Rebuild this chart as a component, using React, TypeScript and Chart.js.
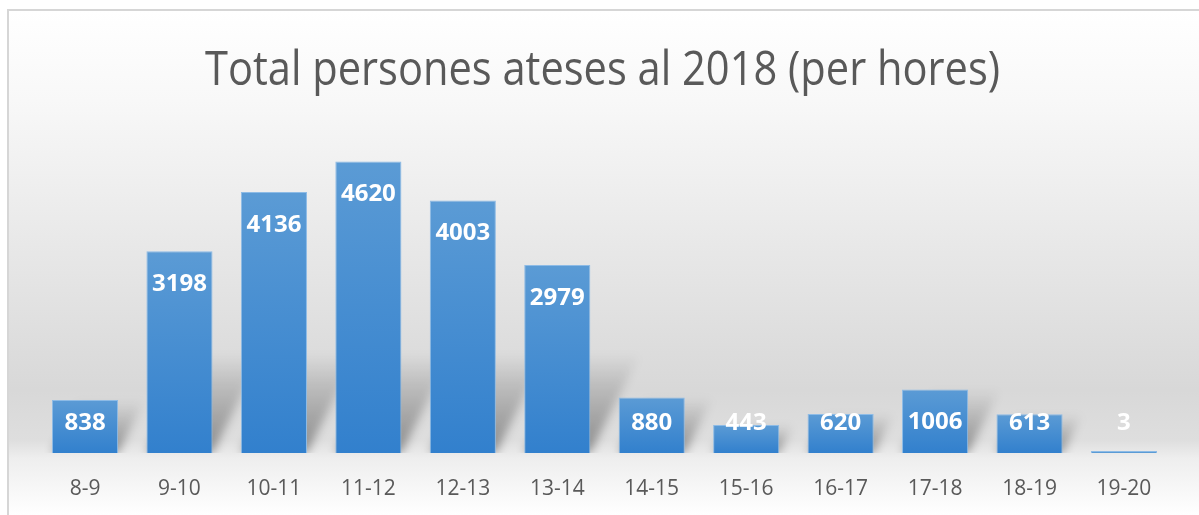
import React, { useEffect, useRef } from "react";
import { Chart, registerables } from "chart.js";

Chart.register(...registerables);

const categories = ["8-9", "9-10", "10-11", "11-12", "12-13", "13-14", "14-15", "15-16", "16-17", "17-18", "18-19", "19-20"];
const persons = [838, 3198, 4136, 4620, 4003, 2979, 880, 443, 620, 1006, 613, 3];
const chartTitle = "Total persones ateses al 2018 (per hores)";

const W = 1199;
const H = 515;

const backgroundPlugin = {
  id: "bgPlugin",
  beforeDraw(chart: any) {
    const ctx = chart.ctx;
    ctx.save();
    ctx.fillStyle = "#ffffff";
    ctx.fillRect(0, 0, W, H);
    const g = ctx.createLinearGradient(0, 11, 0, H);
    g.addColorStop(0, "#ffffff");
    g.addColorStop(0.177, "#f8f8f8");
    g.addColorStop(0.752, "#d8d8d8");
    g.addColorStop(0.851, "#dedede");
    g.addColorStop(0.887, "#eeeeee");
    g.addColorStop(1, "#ffffff");
    ctx.fillStyle = g;
    ctx.fillRect(9, 11, W - 9, H - 11);
    ctx.strokeStyle = "#d6d6d6";
    ctx.lineWidth = 2;
    ctx.beginPath();
    ctx.moveTo(8, H);
    ctx.lineTo(8, 10);
    ctx.lineTo(W, 10);
    ctx.stroke();
    // title
    ctx.font = '400 47px "Open Sans"';
    const tw = ctx.measureText(chartTitle).width;
    const sx = 795 / tw;
    ctx.translate(602.5, 85);
    ctx.scale(sx, 1);
    ctx.fillStyle = "#595959";
    ctx.textAlign = "center";
    ctx.textBaseline = "alphabetic";
    ctx.fillText(chartTitle, 0, 0);
    ctx.restore();
  },
};

const shadowPlugin = {
  id: "shadowPlugin",
  beforeDatasetsDraw(chart: any) {
    const ctx = chart.ctx;
    const meta = chart.getDatasetMeta(0);
    const base = chart.scales.y.getPixelForValue(0);
    ctx.save();
    ctx.beginPath();
    ctx.rect(0, 0, W, base);
    ctx.clip();
    ctx.filter = "blur(5px)";
    meta.data.forEach((bar: any) => {
      const { x, y, width } = bar.getProps(["x", "y", "width"], true);
      const h = base - y;
      if (h < 4) return;
      const sh = Math.min(h, 100);
      const left = x - width / 2;
      const right = x + width / 2;
      const k = 0.5;
      const g = ctx.createLinearGradient(0, base, 0, base - sh);
      g.addColorStop(0, "rgba(0,0,0,0.38)");
      g.addColorStop(1, "rgba(0,0,0,0)");
      ctx.fillStyle = g;
      ctx.beginPath();
      ctx.moveTo(left, base);
      ctx.lineTo(right, base);
      ctx.lineTo(right + k * sh, base - sh);
      ctx.lineTo(left + k * sh, base - sh);
      ctx.closePath();
      ctx.fill();
    });
    ctx.restore();
  },
};

const labelPlugin = {
  id: "labelPlugin",
  afterDatasetsDraw(chart: any) {
    const ctx = chart.ctx;
    const meta = chart.getDatasetMeta(0);
    const base = chart.scales.y.getPixelForValue(0);
    ctx.save();
    ctx.font = 'bold 24px "Open Sans"';
    ctx.fillStyle = "#ffffff";
    ctx.textAlign = "center";
    ctx.textBaseline = "middle";
    meta.data.forEach((bar: any, i: number) => {
      const { x, y } = bar.getProps(["x", "y"], true);
      const ly = Math.min(y + 32, base - 31);
      ctx.fillText(String(persons[i]), x, ly + 1);
    });
    ctx.restore();
  },
};

export default function App() {
  const ref = useRef<HTMLCanvasElement>(null);

  useEffect(() => {
    if (!ref.current) return;
    const chart = new Chart(ref.current, {
      type: "bar",
      data: {
        labels: categories,
        datasets: [
          {
            data: persons,
            backgroundColor: (c: any) => {
              const ch = c.chart;
              const ys = ch.scales && ch.scales.y;
              if (!ys || c.type !== "data") return "#4a8fd4";
              const top = ys.getPixelForValue(c.raw);
              const base = ys.getPixelForValue(0);
              if (!isFinite(top) || !isFinite(base) || base - top < 2) return "#5b9bd5";
              const g = ch.ctx.createLinearGradient(0, top, 0, base);
              g.addColorStop(0, "#5b9bd5");
              g.addColorStop(1, "#3280cd");
              return g;
            },
            borderColor: "#8dbbe6",
            borderWidth: 1,
            barPercentage: 0.7,
            categoryPercentage: 1,
            minBarLength: 2,
          },
        ],
      },
      options: {
        animation: false,
        responsive: false,
        devicePixelRatio: 1,
        layout: {
          padding: { left: 37.8, right: 27.8, top: 137.5, bottom: 6 },
        },
        plugins: {
          legend: { display: false },
          title: { display: false },
          tooltip: { enabled: false },
        },
        scales: {
          y: {
            display: false,
            min: 0,
            max: 5000,
          },
          x: {
            grid: { display: false, drawTicks: true, tickLength: 8 },
            border: { display: false },
            ticks: {
              color: "#595959",
              font: { family: "Open Sans", size: 21, lineHeight: 1.2 },
              padding: 15,
              maxRotation: 0,
              minRotation: 0,
              autoSkip: false,
            },
            afterFit: (scale: any) => {
              scale.height = 56;
            },
          },
        },
      },
      plugins: [backgroundPlugin, shadowPlugin, labelPlugin],
    });
    return () => chart.destroy();
  }, []);

  return (
    <div style={{ position: "absolute", left: 0, top: 0, width: W, height: H }}>
      <canvas ref={ref} width={W} height={H} style={{ display: "block", width: W, height: H }} />
    </div>
  );
}
